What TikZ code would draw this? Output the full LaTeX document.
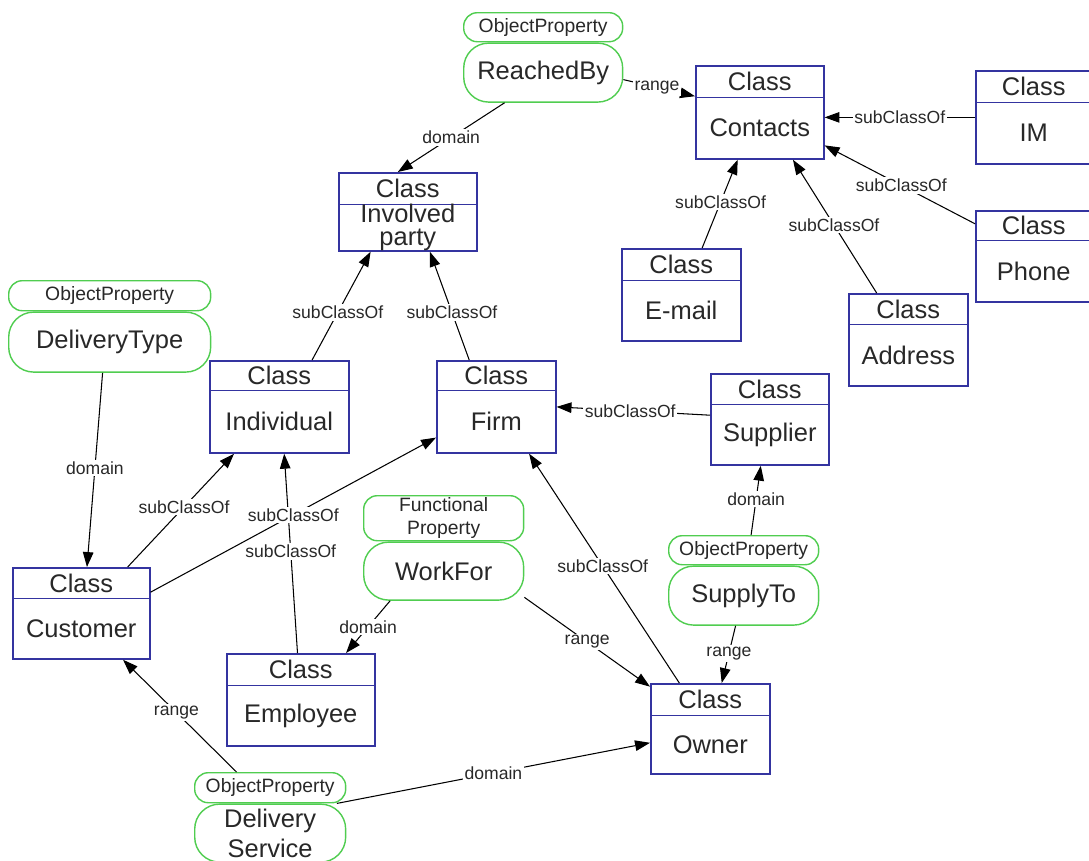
\documentclass[tikz,border=0pt]{standalone}
\usepackage{fontspec}
\setmainfont{Liberation Sans}
\usetikzlibrary{arrows.meta,positioning,shapes.multipart}
\definecolor{clsblue}{RGB}{52,52,160}
\definecolor{propgreen}{RGB}{80,205,80}
\definecolor{txtgray}{RGB}{40,40,40}
% width, header height, body height, class name
\newcommand{\clsbox}[4]{\parbox[c][#2][c]{#1}{\centering Class}\nodepart{two}\parbox[c][#3][c]{#1}{\centering #4}}
\tikzset{
	cls/.style={rectangle split, rectangle split parts=2, draw=clsblue, line width=0.9pt,
		inner sep=0pt, anchor=north west, text=txtgray, font=\fontsize{14.5}{13}\selectfont},
	ptype/.style={draw=propgreen, line width=0.8pt, rounded corners=0.27cm, fill=white,
		inner sep=0pt, text=txtgray, font=\fontsize{11}{13}\selectfont, align=center},
	pname/.style={draw=propgreen, line width=0.8pt, rounded corners=0.5cm, fill=white,
		inner sep=0pt, text=txtgray, font=\fontsize{14.5}{17}\selectfont, align=center},
	rel/.style={-{Triangle[length=8.5pt,width=6pt]}, line width=0.6pt},
	lbl/.style={fill=white, inner sep=1pt, text=txtgray, font=\fontsize{10}{11}\selectfont}
}
\begin{document}
\begin{tikzpicture}[x=0.02cm, y=-0.02cm]
	\useasboundingbox (0,0) rectangle (1089,860);
	% classes
	\node[cls] (contacts) at (695,65) {\clsbox{2.56cm}{0.6cm}{1.2cm}{Contacts}};
	\node[cls] (im) at (975,70) {\clsbox{2.32cm}{0.6cm}{1.2cm}{IM}};
	\node[cls] (phone) at (975,210) {\clsbox{2.32cm}{0.56cm}{1.2cm}{Phone}};
	\node[cls] (email) at (621,248) {\clsbox{2.38cm}{0.6cm}{1.18cm}{E-mail}};
	\node[cls] (address) at (848,293) {\clsbox{2.38cm}{0.58cm}{1.2cm}{Address}};
	\node[cls] (involved) at (338,172) {\clsbox{2.76cm}{0.6cm}{0.9cm}{Involved\\party}};
	\node[cls] (individual) at (209,360) {\clsbox{2.78cm}{0.56cm}{1.22cm}{Individual}};
	\node[cls] (firm) at (436,360) {\clsbox{2.38cm}{0.56cm}{1.22cm}{Firm}};
	\node[cls] (supplier) at (710,373) {\clsbox{2.36cm}{0.58cm}{1.18cm}{Supplier}};
	\node[cls] (customer) at (12,567) {\clsbox{2.74cm}{0.58cm}{1.18cm}{Customer}};
	\node[cls] (employee) at (226,653) {\clsbox{2.96cm}{0.6cm}{1.18cm}{Employee}};
	\node[cls] (owner) at (650,683) {\clsbox{2.38cm}{0.6cm}{1.14cm}{Owner}};
	% properties
	\node[ptype, minimum width=3.18cm, minimum height=0.58cm, anchor=north west] (reachedbyT) at (463,12) {ObjectProperty};
	\node[pname, minimum width=3.18cm, minimum height=1.18cm, below=0pt of reachedbyT] (reachedby) {ReachedBy};
	\node[ptype, minimum width=4.04cm, minimum height=0.6cm, anchor=north west] (deliverytypeT) at (8,280) {ObjectProperty};
	\node[pname, minimum width=4.04cm, minimum height=1.2cm, below=0pt of deliverytypeT] (deliverytype) {DeliveryType};
	\node[ptype, minimum width=3.2cm, minimum height=0.9cm, anchor=north west] (workforT) at (363,495) {Functional\\Property};
	\node[pname, minimum width=3.2cm, minimum height=1.16cm, below=0pt of workforT] (workfor) {WorkFor};
	\node[ptype, minimum width=3cm, minimum height=0.58cm, anchor=north west] (supplytoT) at (668,535) {ObjectProperty};
	\node[pname, minimum width=3cm, minimum height=1.18cm, below=0pt of supplytoT] (supplyto) {SupplyTo};
	\node[ptype, minimum width=3.02cm, minimum height=0.6cm, anchor=north west] (dserviceT) at (194,772) {ObjectProperty};
	\node[pname, minimum width=3.02cm, minimum height=1.16cm, below=0pt of dserviceT] (dservice) {Delivery\\Service};
	% relations
	\draw[rel] (reachedby.218) -- node[lbl] {domain} (involved.104);
	\draw[rel] (reachedby.355) -- node[lbl, pos=.47] {range} (contacts.166);
	\draw[rel] (im.west) -- node[lbl, pos=.5] {subClassOf} (contacts.east |- im.west);
	\draw[rel] (phone.151) -- node[lbl, pos=.49] {subClassOf} (contacts.333);
	\draw[rel] (email.66) -- node[lbl, pos=.52] {subClassOf} (contacts.245);
	\draw[rel] (address.124) -- node[lbl, pos=.51] {subClassOf} (contacts.305);
	\draw[rel] (individual.55) -- node[lbl, pos=.44] {subClassOf} (involved.227);
	\draw[rel] (firm.120) -- node[lbl, pos=.44] {subClassOf} (involved.299);
	\draw[rel] (deliverytype.257) -- node[lbl, pos=.49] {domain} (customer.83);
	\draw[rel] (employee.94) -- node[lbl, pos=.51] {subClassOf} (individual.276);
	\draw[rel] (customer.45) -- node[lbl, pos=.53] {subClassOf} (individual.226);
	\draw[rel] (customer.17) -- node[lbl, pos=.5] {subClassOf} (firm.207);
	\draw[rel] (workfor.209) -- node[lbl] {domain} (employee.46);
	\draw[rel] (workfor.342) -- node[lbl] {range} (owner.145);
	\draw[rel] (owner.124) -- node[lbl, pos=.51] {subClassOf} (firm.305);
	\draw[rel] (supplier.176) -- node[lbl, pos=.52] {subClassOf} (firm.east);
	\draw[rel] (supplytoT.64) -- node[lbl, pos=.52] {domain} (supplier.259);
	\draw[rel] (supplyto.255) -- node[lbl, pos=.48] {range} (owner.76);
	\draw[rel] (dserviceT.155) -- node[lbl, pos=.53] {range} (customer.312);
	\draw[rel] (dservice.24) -- node[lbl] {domain} (owner.193);
\end{tikzpicture}
\end{document}
